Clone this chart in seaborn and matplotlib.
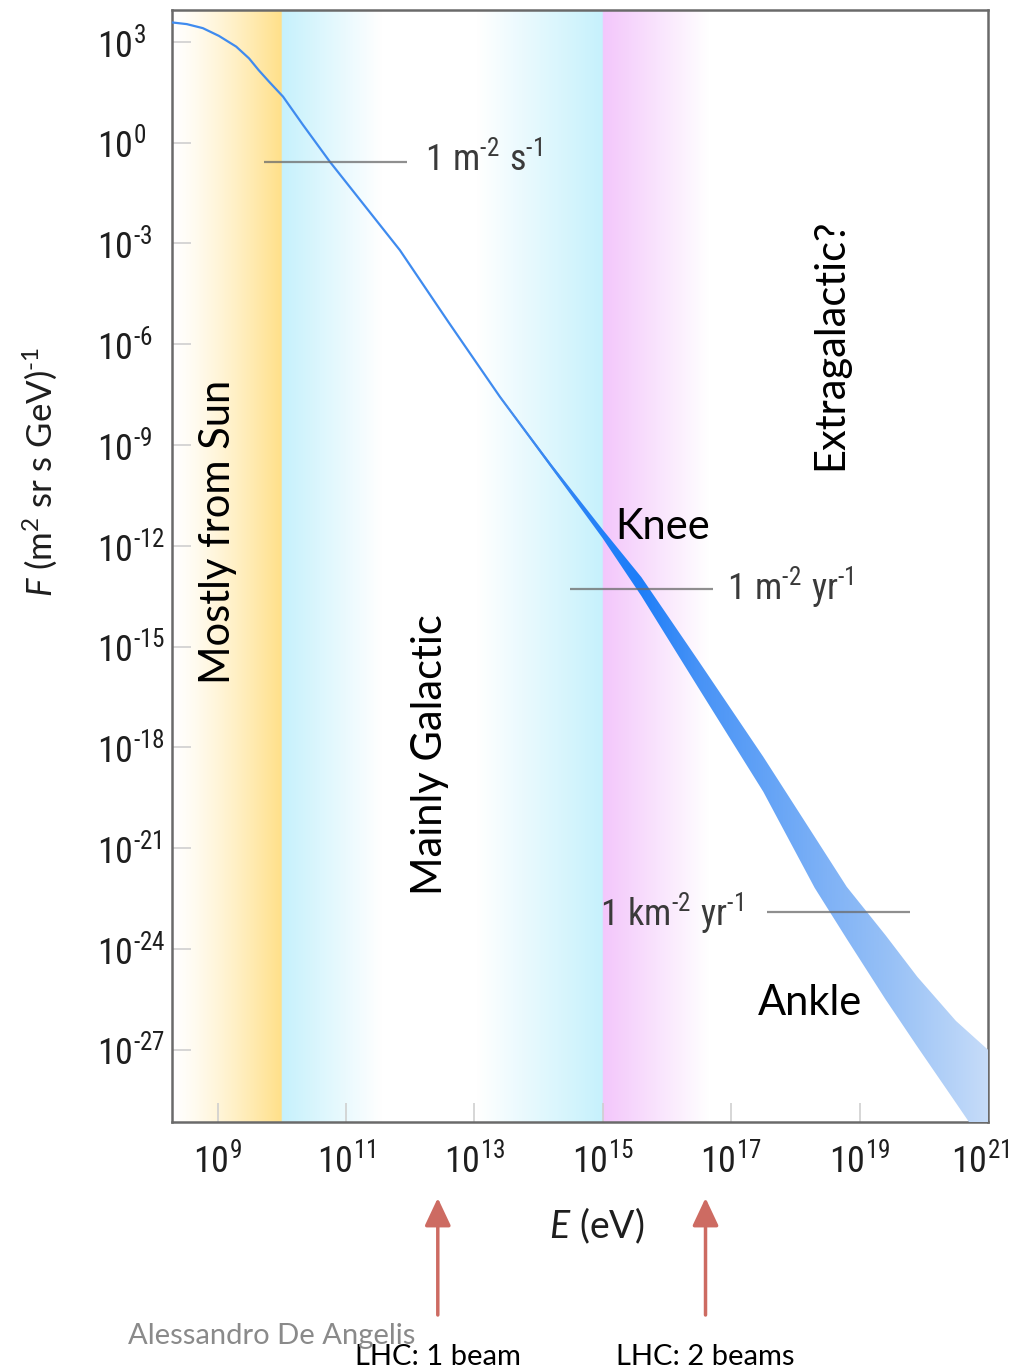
import numpy as np
import pandas as pd
import matplotlib
matplotlib.use("Agg")
import matplotlib.pyplot as plt
from matplotlib.colors import to_rgb
from matplotlib.ticker import FixedLocator, FixedFormatter, NullLocator
from matplotlib.transforms import ScaledTranslation
from matplotlib import font_manager as fm
from matplotlib.ft2font import FT2Font
import seaborn as sns

# ---------------- data ----------------
# thin part of the spectrum (log10 E [eV], log10 F)
line_logE = [8.29, 8.52, 8.77, 9.02, 9.29, 9.49, 9.64, 9.80, 10.02, 10.33,
             10.75, 11.84, 12.60, 13.40, 14.20, 15.00]
line_logF = [3.58, 3.53, 3.41, 3.18, 2.86, 2.51, 2.16, 1.82, 1.37, 0.53,
             -0.57, -3.20, -5.35, -7.57, -9.63, -11.65]

# uncertainty band at high energy (log10 E, upper / lower log10 F)
band_logE = [13.40, 14.20, 15.00, 15.60, 16.50, 17.50, 18.30, 18.80, 19.40,
             19.90, 20.50, 21.00]
band_upper_logF = [-7.54, -9.57, -11.52, -12.93, -15.45, -18.28, -20.66,
                   -22.15, -23.58, -24.83, -26.14, -27.00]
band_lower_logF = [-7.60, -9.69, -11.78, -13.49, -16.26, -19.32, -22.18,
                   -23.70, -25.49, -26.91, -28.58, -29.98]

# axes
x_tick_exp = [9, 11, 13, 15, 17, 19, 21]
y_tick_exp = [3, 0, -3, -6, -9, -12, -15, -18, -21, -24, -27]
x_lim_exp = (8.29, 21.0)
y_lim_exp = (-29.15, 3.95)

# origin regions (log10 E boundaries)
region_names = ["Mostly from Sun", "Mainly Galactic", "Extragalactic?"]
region_bounds_exp = [8.29, 10.0, 15.0, 21.0]

# reference integral flux levels
flux_ref_units = [("m", "2", "s"), ("m", "2", "yr"), ("km", "2", "yr")]
flux_ref_logF = [-0.57, -13.28, -22.90]
flux_ref_span = [(9.72, 11.95), (14.49, 16.71), (17.55, 19.78)]

# spectral features
feature_names = ["Knee", "Ankle"]

# LHC equivalent energies
lhc_labels = ["LHC: 1 beam", "LHC: 2 beams"]
lhc_logE = [12.43, 16.60]

credit = "Alessandro De Angelis"

# ---------------- fonts ----------------
def has_font(name):
    try:
        fm.findfont(fm.FontProperties(family=name), fallback_to_default=False)
        return True
    except Exception:
        return False

narrow = next((f for f in ["Liberation Sans Narrow", "DejaVu Sans Condensed",
                           "Roboto Condensed", "Lato"] if has_font(f)), "Lato")
try:
    ft = FT2Font(fm.findfont(fm.FontProperties(family=narrow)))
    HY = "\u2010" if ft.get_char_index(0x2010) else "\u2212"
except Exception:
    HY = "\u2212"

# ---------------- style ----------------
sns.set_style("white")
plt.rcParams["font.family"] = ["Lato", "DejaVu Sans"]
plt.rcParams["mathtext.fontset"] = "custom"
plt.rcParams["mathtext.rm"] = "Lato"
plt.rcParams["mathtext.it"] = "Lato:italic"
plt.rcParams["mathtext.bf"] = "Lato:bold"

W, H = 1009, 1372
fig = plt.figure(figsize=(W / 100, H / 100), dpi=100)
rect = [172 / W, 1 - 1122 / H, (988 - 172) / W, (1122 - 10) / H]

# ---------------- background gradients ----------------
bg = fig.add_axes(rect, zorder=0)
n = 2000
le = np.linspace(x_lim_exp[0], x_lim_exp[1], n)
white = np.ones(3)
gold = np.array(to_rgb("#FFE089"))
cyan = np.array(to_rgb("#C6F1FC"))
pink = np.array(to_rgb("#F3C6FB"))
b0, b1, b2, b3 = region_bounds_exp
rgb = np.ones((n, 3))
for i, v in enumerate(le):
    if v < b1:
        t = np.clip((v - b0) / (b1 - b0), 0, 1) ** 1.3
        rgb[i] = white * (1 - t) + gold * t
    elif v < b2:
        t = max(1 - (v - b1) / 1.55, 1 - (b2 - v) / 1.95, 0.0)
        rgb[i] = white * (1 - t) + cyan * t
    else:
        t = max(1 - (v - b2) / 1.65, 0.0)
        rgb[i] = white * (1 - t) + pink * t
bg.imshow(rgb[np.newaxis, :, :], aspect="auto", extent=[0, 1, 0, 1],
          interpolation="bilinear")
bg.set_xlim(0, 1)
bg.set_ylim(0, 1)
bg.axis("off")

# ---------------- main axes ----------------
ax = fig.add_axes(rect, zorder=1)
ax.patch.set_alpha(0)
ax.set_xscale("log")
ax.set_yscale("log")
ax.set_xlim(10 ** x_lim_exp[0], 10 ** x_lim_exp[1])
ax.set_ylim(10 ** y_lim_exp[0], 10 ** y_lim_exp[1])
ax.set_autoscale_on(False)

df_line = pd.DataFrame({"E": 10.0 ** np.array(line_logE),
                        "F": 10.0 ** np.array(line_logF)})
sns.lineplot(data=df_line, x="E", y="F", ax=ax, color="#3F8BEF",
             linewidth=1.6, estimator=None, sort=False, zorder=4)

bandE = 10.0 ** np.array(band_logE)
poly = ax.fill_between(bandE, 10.0 ** np.array(band_lower_logF),
                       10.0 ** np.array(band_upper_logF),
                       facecolor="none", edgecolor="none", linewidth=0, zorder=5)
stops_e = [13.4, 15.0, 15.6, 16.5, 17.5, 18.5, 19.5, 21.0]
stops_c = ["#4A90EE", "#2380F8", "#1E7EF8", "#4893F6", "#62A2F6",
           "#7FB2F6", "#98C1F6", "#C6DCF9"]
sc = np.array([to_rgb(c) for c in stops_c])
band_rgb = np.stack([np.interp(le, stops_e, sc[:, k]) for k in range(3)], axis=1)
im = ax.imshow(band_rgb[np.newaxis, :, :], extent=[0, 1, 0, 1],
               transform=ax.transAxes, aspect="auto", interpolation="bilinear",
               zorder=5)
im.set_clip_path(poly.get_paths()[0], ax.transData)
ax.set_xlim(10 ** x_lim_exp[0], 10 ** x_lim_exp[1])
ax.set_ylim(10 ** y_lim_exp[0], 10 ** y_lim_exp[1])

# reference flux lines + labels
for lf, (e1, e2) in zip(flux_ref_logF, flux_ref_span):
    ax.plot([10 ** e1, 10 ** e2], [10 ** lf, 10 ** lf], color="#6a6a6a",
            linewidth=1.6, alpha=0.75, zorder=6, solid_capstyle="butt")

def unit_label(u):
    a, p, b = u
    return "$\\mathregular{1\\ %s^{%s%s}\\ %s^{%s1}}$" % (a, HY, p, b, HY)

txt_kw = dict(fontsize=26, color="#3a3a3a", ha="left", va="baseline", zorder=7,
              family=[narrow, "DejaVu Sans"])
label_pos = [(12.23, -0.82), (16.93, -13.58), (14.95, -23.28)]
for u, (le_, lf_) in zip(flux_ref_units, label_pos):
    ax.text(10 ** le_, 10 ** lf_, unit_label(u), **txt_kw)

# region labels
big = dict(fontsize=30, color="black", zorder=7)
ax.text(10 ** 9.0, 10 ** -11.59, region_names[0], rotation=90,
        ha="center", va="center", **big)
ax.text(10 ** 12.31, 10 ** -18.22, region_names[1], rotation=90,
        ha="center", va="center", **big)
ax.text(10 ** 18.54, 10 ** -5.99, region_names[2], rotation=90,
        ha="center", va="center", **big)
ax.text(10 ** 15.2, 10 ** -11.44, feature_names[0], ha="left", va="center", **big)
ax.text(10 ** 17.41, 10 ** -25.6, feature_names[1], ha="left", va="center", **big)

# ticks
def exp_label(e):
    s = str(e).replace("-", HY)
    return "$\\mathregular{10^{%s}}$" % s

ax.xaxis.set_major_locator(FixedLocator([10.0 ** e for e in x_tick_exp]))
ax.xaxis.set_major_formatter(FixedFormatter([exp_label(e) for e in x_tick_exp]))
ax.yaxis.set_major_locator(FixedLocator([10.0 ** e for e in y_tick_exp]))
ax.yaxis.set_major_formatter(FixedFormatter([exp_label(e) for e in y_tick_exp]))
ax.xaxis.set_minor_locator(NullLocator())
ax.yaxis.set_minor_locator(NullLocator())
ax.tick_params(axis="both", which="major", direction="in", length=14, width=1.2,
               color="#cfcfcf", labelsize=26, labelcolor="#1e1e1e",
               top=False, right=False, bottom=True, left=True)
ax.tick_params(axis="y", pad=54)
ax.tick_params(axis="x", pad=15)
for lab in ax.get_yticklabels() + ax.get_xticklabels():
    lab.set_family([narrow, "DejaVu Sans"])
for lab in ax.get_yticklabels():
    lab.set_horizontalalignment("left")
last = ax.xaxis.get_major_ticks()[-1].label1
last.set_transform(last.get_transform() +
                   ScaledTranslation(-8 / 100, 0, fig.dpi_scale_trans))

for sp in ax.spines.values():
    sp.set_color("#6a6a6a")
    sp.set_linewidth(1.8)
    sp.set_visible(True)

ax.set_xlabel("$\\mathregular{\\it{E}\\rm{\\ (eV)}}$", fontsize=27, color="#1e1e1e",
              va="center", family=[narrow, "DejaVu Sans"])
ax.xaxis.set_label_coords((597 - 172) / 816, (1122 - 1226) / 1112)
ax.set_ylabel("$F$ (m$^2$ sr s GeV)$^{%s1}$" % HY, fontsize=25, color="#1e1e1e",
              va="center", ha="center")
ax.yaxis.set_label_coords((40 - 172) / 816, (1122 - 472) / 1112)

# LHC arrows below the axis
arrow_col = "#CD6B62"
for lab, e in zip(lhc_labels, lhc_logE):
    ax.annotate("", xy=(10 ** e, 1 - 1198 / H), xytext=(10 ** e, 1 - 1315 / H),
                xycoords=("data", "figure fraction"),
                textcoords=("data", "figure fraction"),
                arrowprops=dict(arrowstyle="-|>,head_length=0.85,head_width=0.4",
                                color=arrow_col, lw=2.5, mutation_scale=20,
                                shrinkA=0, shrinkB=0),
                annotation_clip=False)
    ax.annotate(lab, xy=(10 ** e, 1 - 1344 / H),
                xycoords=("data", "figure fraction"), ha="center", va="top",
                fontsize=21, color="black", annotation_clip=False)

fig.text(128 / W, 1 - 1336 / H, credit, ha="left", va="center", fontsize=21,
         color="#8a8a8a")

fig.savefig("out.png", dpi=100)
